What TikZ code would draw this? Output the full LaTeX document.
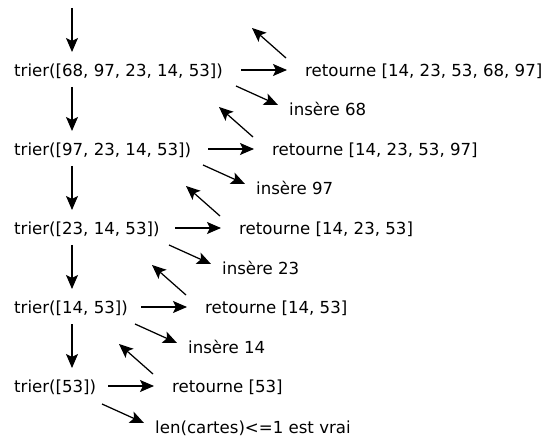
\documentclass[tikz,border=0pt]{standalone}
\usepackage{fontspec}
\setmainfont{DejaVu Sans}
\usetikzlibrary{arrows.meta,calc}
\tikzset{
  lbl/.style={anchor=west, inner sep=0pt, text height=12.5pt, text depth=0pt, font=\fontsize{16.6}{20}\selectfont},
  arr/.style={line width=1.25pt, -{Stealth[length=14pt,width=12pt,inset=3pt]}}
}
\begin{document}
\begin{tikzpicture}[x=1pt,y=-1pt]
\useasboundingbox (0,0) rectangle (546,438);
% calls
\node[lbl] (t1) at (14,70)  {trier([68, 97, 23, 14, 53])};
\node[lbl] (t2) at (14,149) {trier([97, 23, 14, 53])};
\node[lbl] (t3) at (14,228) {trier([23, 14, 53])};
\node[lbl] (t4) at (14,307) {trier([14, 53])};
\node[lbl] (t5) at (14,386) {trier([53])};
% returns
\node[lbl] (r1) at (305,70)  {retourne [14, 23, 53, 68, 97]};
\node[lbl] (r2) at (272,149) {retourne [14, 23, 53, 97]};
\node[lbl] (r3) at (239,228) {retourne [14, 23, 53]};
\node[lbl] (r4) at (205,307) {retourne [14, 53]};
\node[lbl] (r5) at (172,386) {retourne [53]};
% inserts
\node[lbl] (i1) at (289,109) {insère 68};
\node[lbl] (i2) at (256,188) {insère 97};
\node[lbl] (i3) at (222,268) {insère 23};
\node[lbl] (i4) at (188,347) {insère 14};
\node[lbl] (i5) at (155,427) {len(cartes)<=1 est vrai};
% entry
\coordinate (top) at (72,8);
\draw[arr] (top) -- ($(t1.west)+(58,-18)$);
\foreach \a/\b in {t1/t2,t2/t3,t3/t4,t4/t5}{
  \draw[arr] ($(\a.west)+(58,17)$) -- ($(\b.west)+(58,-18)$);
}
\foreach \k in {1,...,5}{
  % call -> return
  \draw[arr] ($(r\k.west)+(-64,0)$) -- ($(r\k.west)+(-18,0)$);
  % down-right to insert
  \draw[arr] ($(i\k.west)+(-53,-23)$) -- ($(i\k.west)+(-11,-4)$);
  % return up
  \draw[arr] ($(r\k.west)+(-19,-12)$) -- ($(r\k.west)+(-53,-42)$);
}
\end{tikzpicture}
\end{document}
